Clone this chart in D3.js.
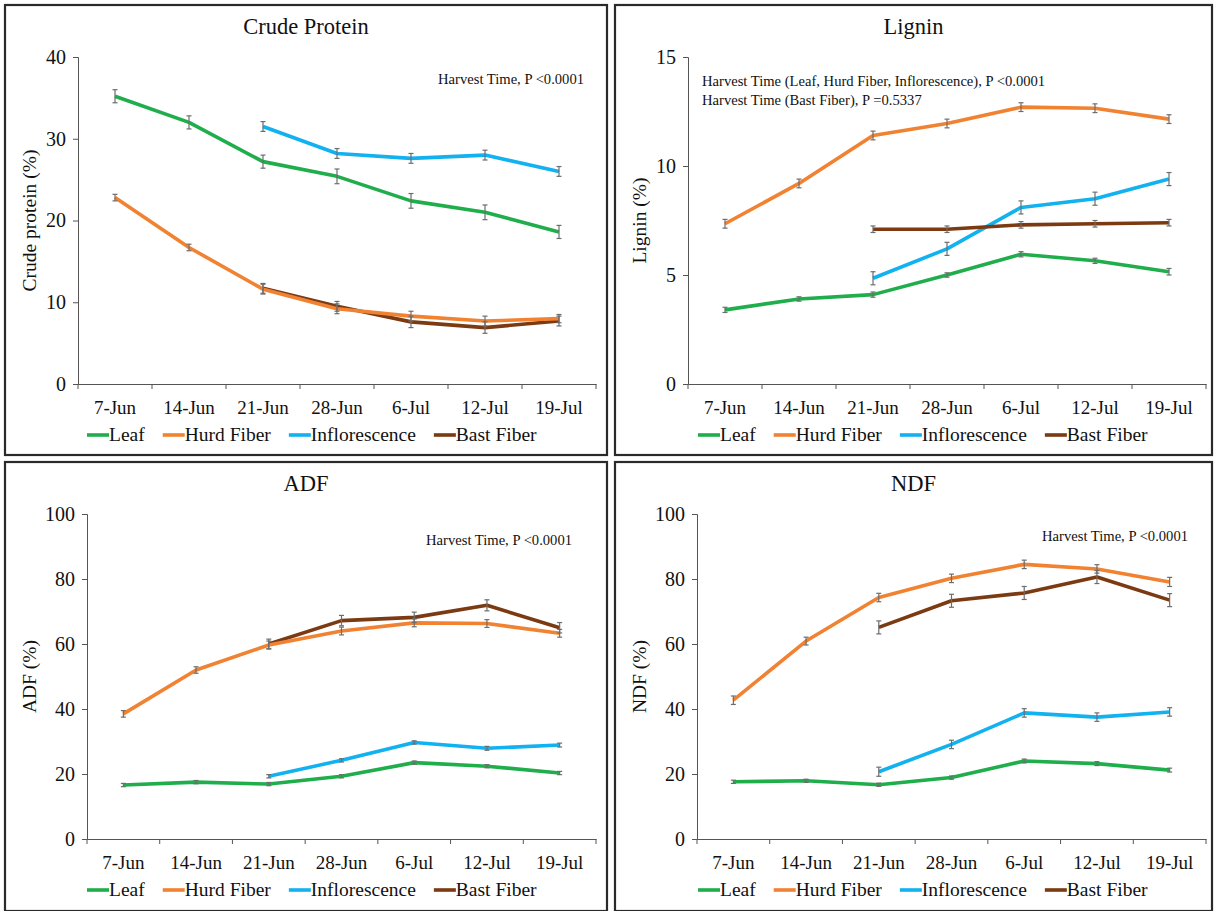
<!DOCTYPE html>
<html>
<head>
<meta charset="utf-8">
<script src="https://cdn.jsdelivr.net/npm/d3@7"></script>
<style>
  body { margin: 0; background: #fff; }
  svg text { font-family: "Liberation Serif", "Times New Roman", serif !important; fill: #111; }
</style>
</head>
<body>
<div id="chart"></div>
<script>
// Harvest dates (x categories)
var dates = ["7-Jun", "14-Jun", "21-Jun", "28-Jun", "6-Jul", "12-Jul", "19-Jul"];
var seriesNames = ["Leaf", "Hurd Fiber", "Inflorescence", "Bast Fiber"];
var seriesColors = ["#1fae4b", "#f08232", "#12b1ef", "#7b3a12"];

// Crude protein (%)
var cpLeaf  = [35.2, 32.0, 27.2, 25.4, 22.4, 21.0, 18.6];
var cpHurd  = [22.8, 16.7, 11.6, 9.2, 8.3, 7.7, 8.0];
var cpInfl  = [null, null, 31.5, 28.2, 27.6, 28.0, 26.0];
var cpBast  = [null, null, 11.7, 9.5, 7.6, 6.9, 7.7];
var cpErr   = [[0.8, 0.8, 0.8, 0.9, 0.9, 0.9, 0.8], [0.4, 0.4, 0.6, 0.6, 0.6, 0.6, 0.5],
               [null, null, 0.6, 0.6, 0.6, 0.6, 0.6], [null, null, 0.6, 0.6, 0.7, 0.7, 0.6]];

// Lignin (%)
var lgLeaf  = [3.4, 3.9, 4.1, 5.0, 5.95, 5.65, 5.15];
var lgHurd  = [7.35, 9.2, 11.4, 11.95, 12.7, 12.65, 12.15];
var lgInfl  = [null, null, 4.85, 6.2, 8.1, 8.5, 9.4];
var lgBast  = [null, null, 7.1, 7.1, 7.3, 7.35, 7.4];
var lgErr   = [[0.12, 0.1, 0.12, 0.1, 0.12, 0.12, 0.15], [0.2, 0.2, 0.2, 0.2, 0.2, 0.2, 0.2],
               [null, null, 0.3, 0.3, 0.3, 0.3, 0.3], [null, null, 0.15, 0.15, 0.15, 0.15, 0.15]];

// ADF (%)
var adfLeaf = [16.6, 17.5, 16.9, 19.3, 23.5, 22.4, 20.3];
var adfHurd = [38.5, 52.0, 59.7, 64.0, 66.5, 66.3, 63.3];
var adfInfl = [null, null, 19.3, 24.2, 29.7, 27.9, 28.9];
var adfBast = [null, null, 60.0, 67.2, 68.2, 71.9, 65.0];
var adfErr  = [[0.5, 0.5, 0.5, 0.5, 0.5, 0.5, 0.5], [1.0, 1.0, 1.2, 1.2, 1.2, 1.2, 1.2],
               [null, null, 0.5, 0.5, 0.5, 0.6, 0.6], [null, null, 1.5, 1.6, 1.6, 1.7, 1.6]];

// NDF (%)
var ndfLeaf = [17.6, 17.9, 16.7, 18.9, 24.0, 23.2, 21.2];
var ndfHurd = [42.7, 60.9, 74.3, 80.2, 84.5, 83.1, 79.1];
var ndfInfl = [null, null, 20.7, 29.1, 38.8, 37.5, 39.1];
var ndfBast = [null, null, 65.1, 73.3, 75.7, 80.6, 73.5];
var ndfErr  = [[0.5, 0.5, 0.5, 0.5, 0.6, 0.6, 0.6], [1.3, 1.2, 1.3, 1.3, 1.3, 1.3, 1.4],
               [null, null, 1.4, 1.3, 1.3, 1.3, 1.3], [null, null, 2.0, 2.0, 2.0, 2.0, 2.0]];

var svg = d3.select("#chart").append("svg").attr("width", 1214).attr("height", 911)
	.attr("font-family", "Liberation Serif, serif");

// one panel = one small chart
function drawPanel(p) {
	var g = svg.append("g");
	g.append("rect").attr("x", p.box[0]).attr("y", p.box[1]).attr("width", p.box[2]).attr("height", p.box[3])
		.attr("fill", "none").attr("stroke", "#2a2a2a").attr("stroke-width", 2.2);

	var x = d3.scaleBand().domain(dates).range([p.left, p.right]);
	var y = d3.scaleLinear().domain([0, p.ymax]).range([p.bottom, p.top]);

	// title
	g.append("text").attr("x", (p.box[0] + p.box[0] + p.box[2]) / 2).attr("y", p.top - 23)
		.attr("text-anchor", "middle").style("font-size", "22.5px").text(p.title);

	// y axis
	var yAxis = g.append("g").attr("transform", "translate(" + p.left + ",0)")
		.call(d3.axisLeft(y).tickValues(d3.range(0, p.ymax + 0.001, p.step)).tickSize(5).tickPadding(7));
	yAxis.selectAll("text").style("font-size", "20px");
	// x axis, ticks on band borders
	var xAxis = g.append("g").attr("transform", "translate(0," + p.bottom + ")")
		.call(d3.axisBottom(x).tickSize(0).tickPadding(17));
	xAxis.selectAll("text").style("font-size", "19px");
	xAxis.selectAll(".bt").data(d3.range(dates.length + 1)).enter().append("line")
		.attr("x1", function(i) { return p.left + i * x.step(); })
		.attr("x2", function(i) { return p.left + i * x.step(); })
		.attr("y1", 0).attr("y2", 5).attr("stroke", "#555");
	g.selectAll(".domain").attr("stroke", "#555");
	g.selectAll(".tick line").attr("stroke", "#555");

	// y label
	g.append("text").attr("transform", "translate(" + p.ylabX + "," + ((p.top + p.bottom) / 2) + ") rotate(-90)")
		.attr("text-anchor", "middle").style("font-size", "19.5px").text(p.ylabel);

	// lines + error bars
	var line = d3.line()
		.defined(function(d) { return d != null; })
		.x(function(d, i) { return x(dates[i]) + x.bandwidth() / 2; })
		.y(function(d) { return y(d); });
	var drawOrder = p.order || [0, 1, 2, 3];
	drawOrder.forEach(function(s) {
		g.append("path").datum(p.series[s]).attr("d", line).attr("fill", "none")
			.attr("stroke", seriesColors[s]).attr("stroke-width", 3.6).attr("stroke-linejoin", "round");
	});
	drawOrder.forEach(function(s) {
		p.series[s].forEach(function(v, i) {
			if (v == null) return;
			var e = p.err[s][i], cx = x(dates[i]) + x.bandwidth() / 2;
			var eb = g.append("g").attr("stroke", "#6d6d6d").attr("stroke-width", 1.2);
			eb.append("line").attr("x1", cx).attr("x2", cx).attr("y1", y(v - e)).attr("y2", y(v + e));
			eb.append("line").attr("x1", cx - 2.5).attr("x2", cx + 2.5).attr("y1", y(v - e)).attr("y2", y(v - e));
			eb.append("line").attr("x1", cx - 2.5).attr("x2", cx + 2.5).attr("y1", y(v + e)).attr("y2", y(v + e));
		});
	});

	// annotation
	p.notes.forEach(function(n, k) {
		g.append("text").attr("x", p.noteX).attr("y", p.noteY + k * 19).attr("text-anchor", p.noteAnchor)
			.style("font-size", "14.6px").text(n);
	});

	// legend
	var lg = g.append("g").attr("transform", "translate(0," + (p.bottom + 51) + ")");
	var cur = p.legendX;
	seriesNames.forEach(function(name, s) {
		lg.append("line").attr("x1", cur).attr("x2", cur + 22).attr("y1", 0).attr("y2", 0)
			.attr("stroke", seriesColors[s]).attr("stroke-width", 3.6);
		var t = lg.append("text").attr("x", cur + 22).attr("y", 6).style("font-size", "19.5px").text(name);
		cur += 22 + t.node().getComputedTextLength() + 18;
	});
}

drawPanel({ title: "Crude Protein", ylabel: "Crude protein (%)", box: [5, 5, 602, 450],
	left: 78, right: 596, top: 57, bottom: 384, ymax: 40, step: 10, ylabX: 36,
	series: [cpLeaf, cpHurd, cpInfl, cpBast], err: cpErr, order: [0, 2, 3, 1],
	notes: ["Harvest Time, P <0.0001"], noteX: 584, noteY: 84, noteAnchor: "end", legendX: 87 });

drawPanel({ title: "Lignin", ylabel: "Lignin (%)", box: [615, 5, 597, 450],
	left: 688, right: 1206, top: 57, bottom: 384, ymax: 15, step: 5, ylabX: 646,
	series: [lgLeaf, lgHurd, lgInfl, lgBast], err: lgErr, order: [0, 1, 2, 3],
	notes: ["Harvest Time (Leaf, Hurd Fiber, Inflorescence), P <0.0001", "Harvest Time (Bast Fiber), P =0.5337"],
	noteX: 702, noteY: 86, noteAnchor: "start", legendX: 698 });

drawPanel({ title: "ADF", ylabel: "ADF (%)", box: [5, 462, 602, 449],
	left: 87, right: 596, top: 514, bottom: 839, ymax: 100, step: 20, ylabX: 36,
	series: [adfLeaf, adfHurd, adfInfl, adfBast], err: adfErr, order: [0, 2, 3, 1],
	notes: ["Harvest Time, P <0.0001"], noteX: 572, noteY: 545, noteAnchor: "end", legendX: 87 });

drawPanel({ title: "NDF", ylabel: "NDF (%)", box: [615, 462, 597, 449],
	left: 697, right: 1206, top: 514, bottom: 839, ymax: 100, step: 20, ylabX: 646,
	series: [ndfLeaf, ndfHurd, ndfInfl, ndfBast], err: ndfErr, order: [0, 1, 2, 3],
	notes: ["Harvest Time, P <0.0001"], noteX: 1188, noteY: 541, noteAnchor: "end", legendX: 698 });
</script>
</body>
</html>
